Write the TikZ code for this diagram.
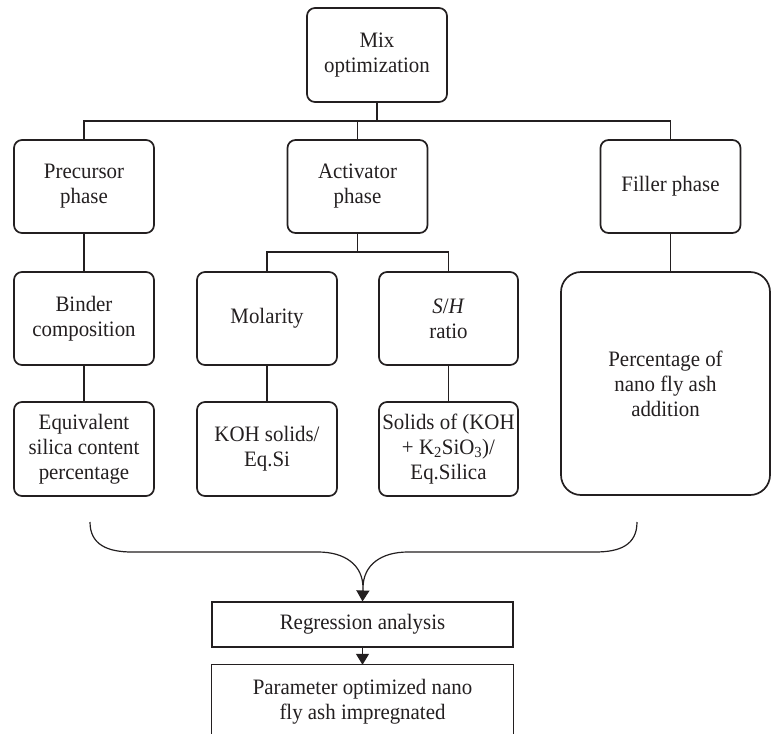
\documentclass[tikz,border=0pt]{standalone}
\usepackage{fontspec}
\setmainfont[FakeStretch=0.95]{Liberation Serif}
\usetikzlibrary{arrows.meta}
\definecolor{ink}{HTML}{231F20}
\begin{document}
\begin{tikzpicture}[x=1pt,y=-1pt,
  txt/.style={align=center, inner sep=0pt, text=ink, font=\fontsize{22}{25}\selectfont},
  rbox/.style={txt, draw=ink, line width=1.7pt, rounded corners=8pt, minimum width=140pt, minimum height=93pt},
  sbox/.style={txt, draw=ink, line width=1.1pt},
  conn/.style={draw=ink, line width=1.4pt},
  arr/.style={draw=ink, line width=1.3pt, -{Triangle[width=13pt,length=11pt]}},
]
\useasboundingbox (0,0) rectangle (772,734);

\node[rbox, minimum height=94pt] (mix) at (377,55) {Mix\\optimization};
\node[rbox] (pre) at (84,186.5) {Precursor\\phase};
\node[rbox] (act) at (357.5,186.5) {Activator\\phase};
\node[rbox] (fil) at (670.5,186.5) {Filler phase};
\node[rbox] (bin) at (84,318.5) {Binder\\composition};
\node[rbox] (mol) at (267,318.5) {Molarity};
\node[rbox, minimum width=139pt] (sh) at (448.5,318.5) {\textit{S}/\textit{H}\\ratio};
\node[rbox, rounded corners=20pt, minimum width=209pt, minimum height=223pt] (pct) at (665.5,383.5) {Percentage of\\nano fly ash\\addition};
\node[rbox, minimum height=94pt] (eqv) at (84,449) {Equivalent\\silica content\\percentage};
\node[rbox, minimum height=94pt] (koh) at (267,449) {KOH solids/\\Eq.Si};
\node[rbox, minimum width=139pt, minimum height=94pt] (sol) at (448.5,449) {Solids of (KOH\\+ K\textsubscript{2}SiO\textsubscript{3})/\\Eq.Silica};
\node[sbox, minimum width=301pt, minimum height=45pt] (reg) at (362.5,624.5) {Regression analysis};
\node[txt, minimum width=301pt, minimum height=74pt] (fin) at (362.5,702) {Parameter optimized nano\\fly ash impregnated};

\coordinate (bot) at (0,734);
\coordinate (bus) at (0,121);
\coordinate (sub) at (0,252);
\coordinate (bL) at (90,522);
\coordinate (bR) at (637,522);
\coordinate (cusp) at (363,588);

\draw[ink, line width=1.1pt] (fin.north west |- bot) -- (fin.north west) -- (fin.north east) -- (fin.north east |- bot);

\draw[conn] (pre.north) |- (bus -| fil.north) -- (fil.north);
\draw[conn, line width=2.3pt] (mix.south) -- (mix.south |- bus);
\draw[conn] (act.north) -- (act.north |- bus);
\draw[conn] (act.south) -- (act.south |- sub);
\draw[conn] (mol.north) |- (sub -| sh.north) -- (sh.north);
\draw[conn] (pre.south) -- (bin.north);
\draw[conn] (bin.south) -- (eqv.north);
\draw[conn] (mol.south) -- (koh.north);
\draw[conn] (sh.south) -- (sol.north);
\draw[conn] (fil.south) -- (fil.south |- pct.north);

\draw[ink, line width=1.2pt] (bL) .. controls (90,545) and (108,552) .. (132,552) -- (318,552) .. controls (345,552) and (363,565) .. (cusp) .. controls (363,565) and (381,552) .. (408,552) -- (595,552) .. controls (620,552) and (637,545) .. (bR);
\draw[arr] (cusp) -- (reg.north);
\draw[arr] (reg.south) -- (fin.north);
\end{tikzpicture}
\end{document}
